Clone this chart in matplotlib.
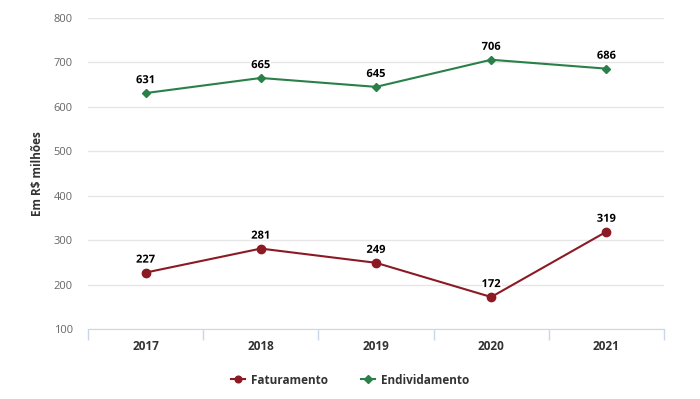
import matplotlib.pyplot as plt
import matplotlib.patheffects as pe

years = ["2017", "2018", "2019", "2020", "2021"]
faturamento = [227, 281, 249, 172, 319]
endividamento = [631, 665, 645, 706, 686]

plt.rcParams['font.family'] = ['Open Sans', 'DejaVu Sans']

fig = plt.figure(figsize=(7, 3.99), dpi=100)
ax = fig.add_axes([88 / 700, 1 - 329 / 399, 576 / 700, 311 / 399])

x = list(range(len(years)))
red = "#8b1a24"
green = "#2a8049"

ax.plot(x, faturamento, color=red, linewidth=1.5, marker="o", markersize=6, label="Faturamento", zorder=3)
ax.plot(x, endividamento, color=green, linewidth=1.5, marker="D", markersize=4.5, label="Endividamento", zorder=3)

# Data labels
for series in (faturamento, endividamento):
    for xi, v in zip(x, series):
        ax.annotate(str(v), (xi, v), xytext=(0, 5), textcoords="offset points", ha="center", va="bottom",
                    fontsize=8, fontweight="bold", color="black",
                    path_effects=[pe.withStroke(linewidth=2.5, foreground="white")], zorder=4)

ax.set_xlim(-0.5, len(years) - 0.5)
ax.set_ylim(100, 800)
ax.set_yticks(range(100, 801, 100))
ax.tick_params(axis="y", length=0, labelsize=8, labelcolor="#666666", pad=11)

# Category ticks on boundaries, labels at centres
ax.set_xticks([i - 0.5 for i in range(len(years) + 1)])
ax.set_xticklabels([])
ax.set_xticks(x, minor=True)
ax.set_xticklabels(years, minor=True, fontsize=8.5, fontweight="bold", color="#333333")
ax.tick_params(axis="x", which="major", length=8, color="#ccd6eb", width=1)
ax.tick_params(axis="x", which="minor", length=0, pad=8)

ax.grid(axis="y", color="#e6e6e6", linewidth=1)
ax.set_axisbelow(True)
for s in ["top", "right", "left"]:
    ax.spines[s].set_visible(False)
ax.spines["bottom"].set_color("#ccd6eb")

ax.set_ylabel("Em R$ milhões", fontsize=8.5, fontweight="bold", color="#333333", labelpad=7)

leg = fig.legend(loc="center", bbox_to_anchor=(0.5, 1 - 380 / 399), ncol=2, frameon=False,
                 fontsize=8.5, handlelength=1.2, columnspacing=2.8, handletextpad=0.5, markerscale=0.8)
for t in leg.get_texts():
    t.set_color("#333333")
    t.set_fontweight("bold")

fig.savefig("out.png", dpi=100)
